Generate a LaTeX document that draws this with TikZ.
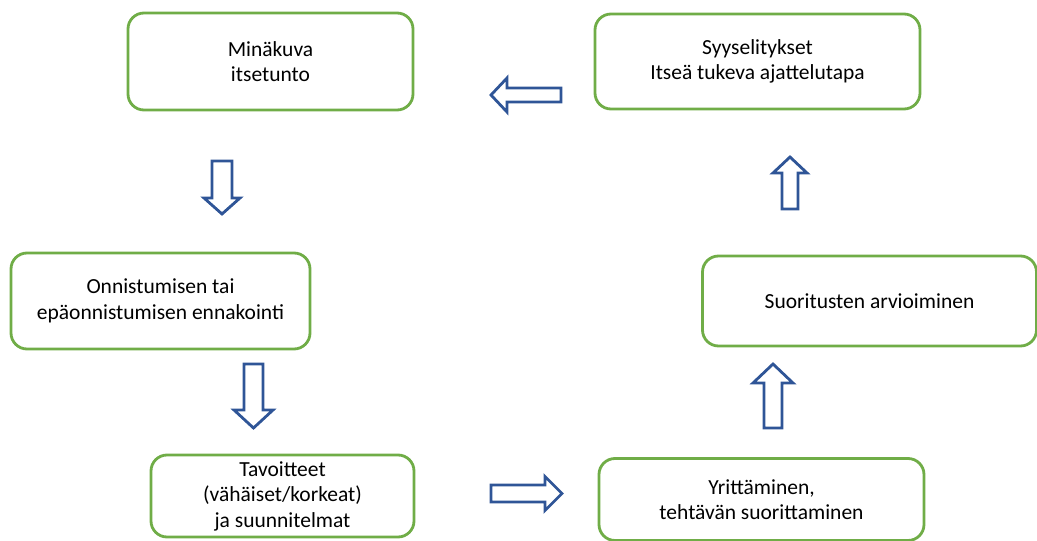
\documentclass[tikz,border=0pt]{standalone}
\usepackage{fontspec}
\setmainfont{Carlito}
\definecolor{boxgreen}{RGB}{112,173,71}
\definecolor{arrowblue}{RGB}{47,85,151}
\newcommand{\blockarr}[8]{%
  \draw[barrow, shift={(#2,#3)}, rotate=#4] (-#5/2,-#6) -- (#5/2-#8,-#6) -- (#5/2-#8,-#7) -- (#5/2,0) -- (#5/2-#8,#7) -- (#5/2-#8,#6) -- (-#5/2,#6) -- cycle;%
  \coordinate (#1) at (#2,#3);}
\tikzset{
  stage/.style={draw=boxgreen, line width=2.8pt, rounded corners=16pt, fill=white,
    align=center, inner sep=0pt, font=\fontsize{21.5}{25.5}\selectfont},
  barrow/.style={draw=arrowblue, line width=2.8pt, fill=white, line join=miter}
}
\begin{document}
\begin{tikzpicture}[x=1pt,y=-1pt]
\useasboundingbox (0,0) rectangle (1037,541);
\node[stage, minimum width=285pt, minimum height=97pt] (mina) at (270.5,61.5) {Minäkuva\\itsetunto};
\node[stage, minimum width=325pt, minimum height=95pt] (syy) at (757.5,61.5) {Syyselitykset\\Itseä tukeva ajattelutapa};
\node[stage, minimum width=299pt, minimum height=96pt] (onn) at (160.5,301) {Onnistumisen tai\\epäonnistumisen ennakointi};
\node[stage, minimum width=334pt, minimum height=90pt] (suo) at (869.5,301) {Suoritusten arvioiminen};
\node[stage, minimum width=263pt, minimum height=82pt] (tav) at (282.5,496) {Tavoitteet\\(vähäiset/korkeat)\\ja suunnitelmat};
\node[stage, minimum width=325pt, minimum height=82pt] (yri) at (761.5,499.5) {Yrittäminen,\\tehtävän suorittaminen};
% block arrows: name, cx, cy, angle, length, shaft half, head half, head length
\blockarr{a1}{526}{95}{180}{70}{7}{17}{16}
\blockarr{a2}{222}{187.5}{-90}{53}{10}{18}{16}
\blockarr{a3}{253.5}{396}{-90}{64}{9.5}{19.5}{18}
\blockarr{a4}{526.5}{493.5}{0}{71}{8.5}{17}{17}
\blockarr{a5}{773}{396}{90}{64}{9}{20}{19}
\blockarr{a6}{790}{183}{90}{52}{8}{17}{16}
\end{tikzpicture}
\end{document}
